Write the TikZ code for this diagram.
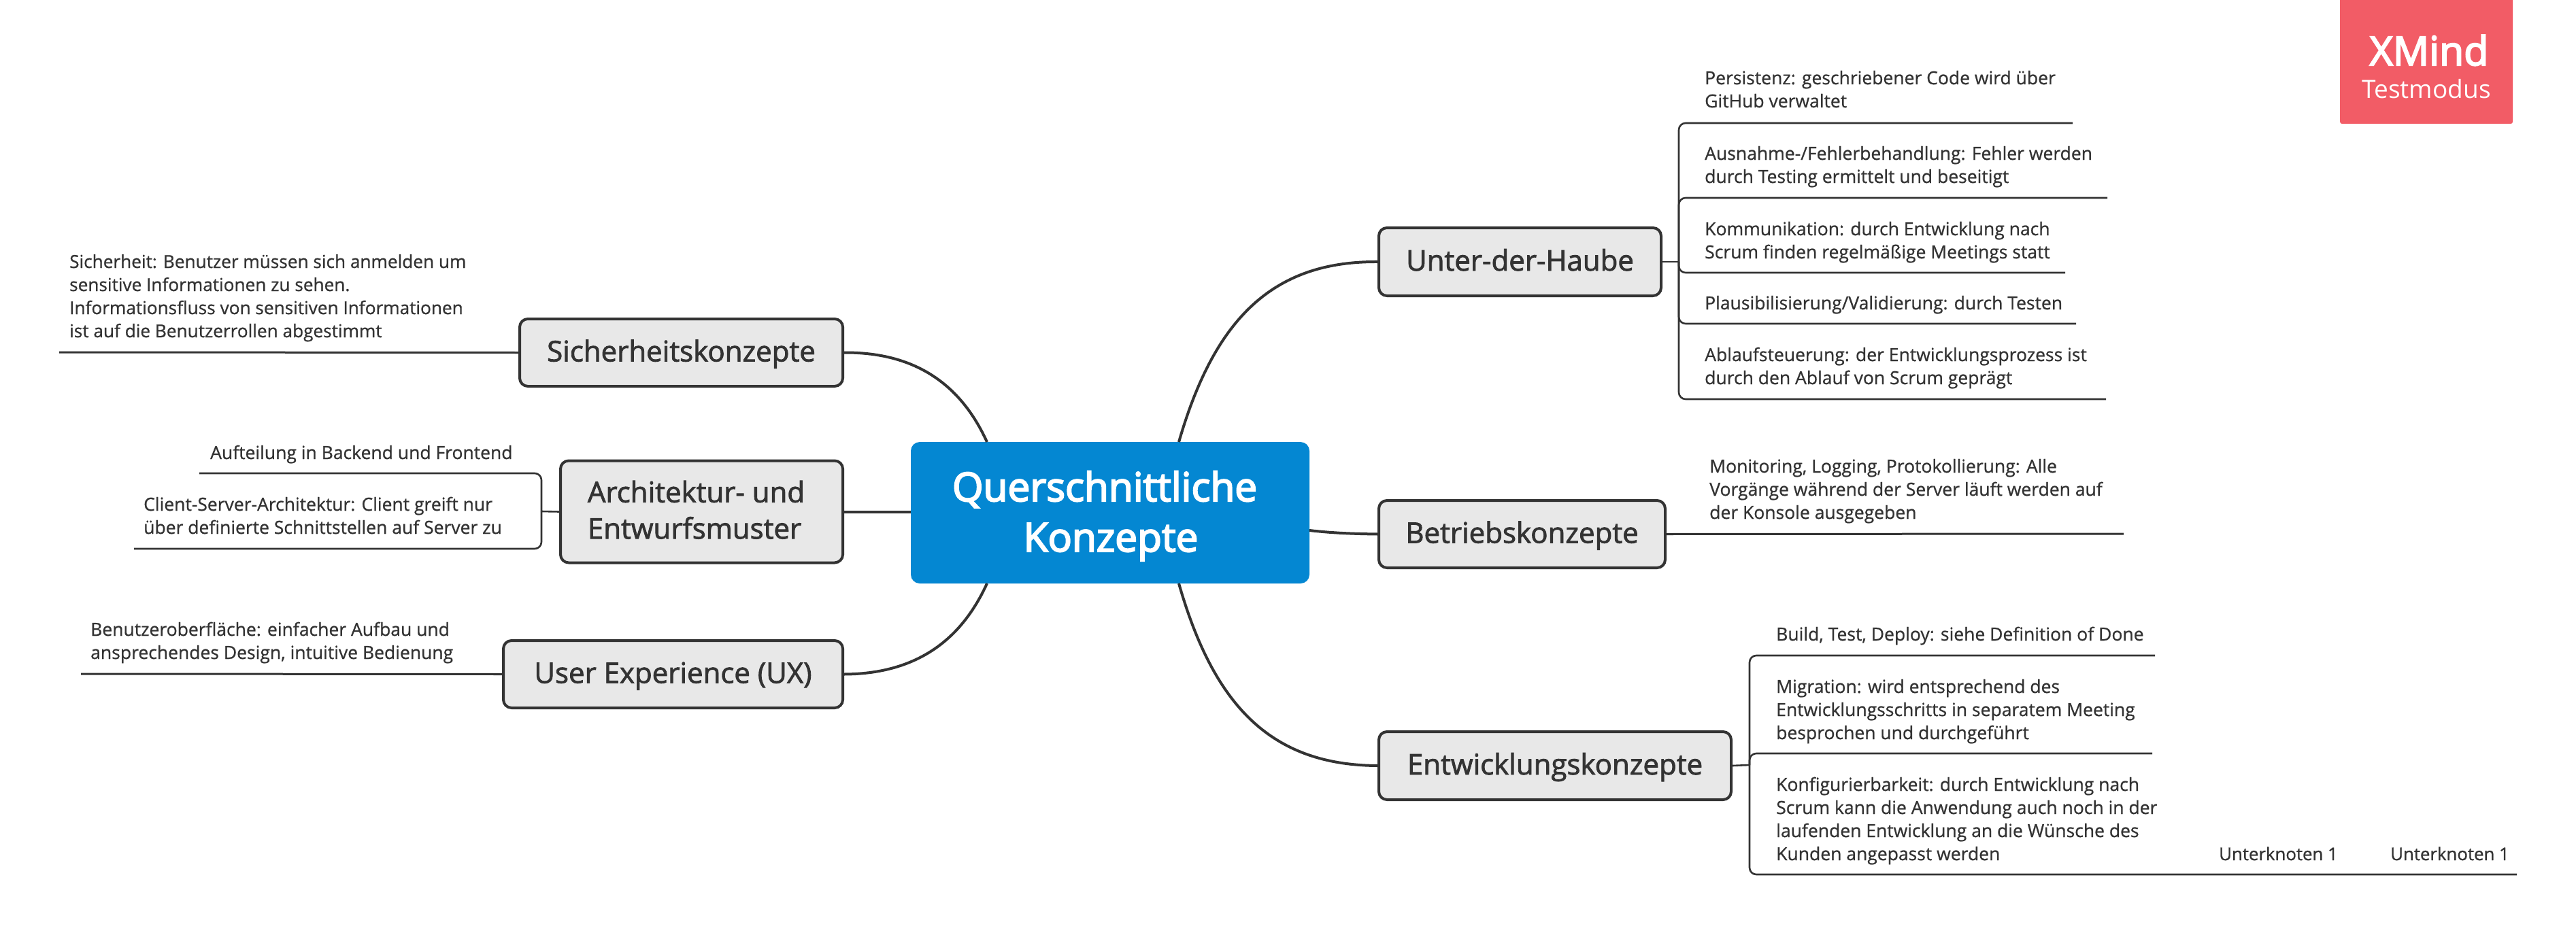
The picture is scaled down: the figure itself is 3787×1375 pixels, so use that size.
\documentclass[tikz,border=0pt]{standalone}
\usepackage{fontspec}
\setmainfont{Open Sans}
\newfontfamily\centrefont[FakeBold=3.5]{Open Sans}
\newfontfamily\branchfont[FakeBold=2]{Open Sans}
\newfontfamily\leaffont[FakeBold=0.8]{Open Sans}
\definecolor{ink}{HTML}{333333}
\definecolor{boxfill}{HTML}{E8E8E8}
\definecolor{centreblue}{HTML}{0487D2}
\definecolor{badge}{HTML}{F25C66}
\tikzset{
  x=1pt,y=-1pt,
  centrebox/.style={fill=centreblue,draw=none,rounded corners=13pt,inner sep=0pt,text=white,align=center},
  centretext/.style={inner sep=0pt,anchor=base,text=white,font=\centrefont\fontsize{58.5}{58.5}\selectfont},
  branchbox/.style={draw=ink,line width=4pt,fill=boxfill,rounded corners=12pt,inner sep=0pt,text=ink,
    text height=36pt,text depth=10pt,font=\branchfont\fontsize{42}{53.5}\selectfont},
  leaf/.style={anchor=base west,inner sep=0pt,text=ink,align=left,font=\leaffont\fontsize{26.5}{34}\selectfont},
  mainline/.style={draw=ink,line width=4pt},
  leafline/.style={draw=ink,line width=3pt},
  brackline/.style={draw=ink,line width=2.6pt,rounded corners=10pt},
}
\begin{document}
\begin{tikzpicture}
\useasboundingbox (0,0) rectangle (3787,1375);
\fill[white] (0,0) rectangle (3787,1375);
% badge
\fill[badge,rounded corners=3pt] (3440,-10) rectangle (3694,182);
\node[inner sep=0pt,anchor=base,text=white,font=\centrefont\fontsize{59}{59}\selectfont] (xm) at (3571,96) {XMind};
\node[inner sep=0pt,anchor=base,text=white,font=\fontsize{37}{37}\selectfont] (tm) at (3567,145) {Testmodus};
% centre
\node[centrebox,minimum width=586pt,minimum height=208pt] (c) at (1632,754) {};
\node[centretext] (c1) at (1624,737) {Querschnittliche};
\node[centretext] (c2) at (1633,811) {Konzepte};
% branches
\node[branchbox,minimum width=415pt,minimum height=100pt] (uh) at (2234.5,385) {Unter-der-Haube};
\node[branchbox,minimum width=421pt,minimum height=99pt] (bk) at (2237.5,785.5) {Betriebskonzepte};
\node[branchbox,minimum width=518pt,minimum height=100pt] (ek) at (2286,1126) {Entwicklungskonzepte};
\node[branchbox,minimum width=475pt,minimum height=99pt] (sk) at (1001.5,518.5) {Sicherheitskonzepte};
\node[branchbox,text height={},text depth=6pt,minimum width=415pt,minimum height=150pt,align=left] (ak) at (1031.5,752.5) {Architektur- und\hspace*{16pt}\\Entwurfsmuster};
\node[branchbox,minimum width=499pt,minimum height=99pt] (ux) at (989.5,991.5) {User Experience (UX)};
% main connectors
\coordinate (cul) at (1451,650);\coordinate (cur) at (1733,650);
\coordinate (cdl) at (1451,858);\coordinate (cdr) at (1733,858);
\coordinate (cre) at (1925,780);
\draw[mainline] (cur) .. controls (1785,470) and (1870,384) .. (uh.west);
\draw[mainline] (cdr) .. controls (1785,1040) and (1870,1125) .. (ek.west);
\draw[mainline] (cre) .. controls (1960,784) and (1990,785) .. (bk.west);
\draw[mainline] (cul) .. controls (1410,560) and (1340,518) .. (sk.east);
\draw[mainline] (cdl) .. controls (1410,948) and (1340,991) .. (ux.east);
\draw[mainline] (ak.east) -- (c.west |- ak.east);
% Unter-der-Haube leaves
\coordinate (ubr) at (2468,385);
\coordinate (u1) at (3047,181);\coordinate (u2) at (3098,291);\coordinate (u3) at (3036,401);
\coordinate (u4) at (3052,476);\coordinate (u5) at (3096,587);
\draw[brackline] (uh.east) -- (ubr);
\foreach \n in {u1,u2,u3,u4,u5} \draw[brackline] (ubr) |- (\n);
\node[leaf] (lu1) at (2506,158) {Persistenz: geschriebener Code wird über\\GitHub verwaltet};
\node[leaf] (lu2) at (2506,269) {Ausnahme-/Fehlerbehandlung: Fehler werden\\durch Testing ermittelt und beseitigt};
\node[leaf] (lu3) at (2506,380) {Kommunikation: durch Entwicklung nach\\Scrum finden regelmäßige Meetings statt};
\node[leaf] (lu4) at (2506,455) {Plausibilisierung/Validierung: durch Testen};
\node[leaf] (lu5) at (2506,565) {Ablaufsteuerung: der Entwicklungsprozess ist\\durch den Ablauf von Scrum geprägt};
% Betrieb
\coordinate (b1) at (3122,785);
\draw[leafline] (bk.east) -- (b1);
\node[leaf] (lb1) at (2513,763) {Monitoring, Logging, Protokollierung: Alle\\Vorgänge während der Server läuft werden auf\\der Konsole ausgegeben};
% Entwicklung
\coordinate (ebr) at (2572,1125);
\coordinate (e1) at (3168,964);\coordinate (e2) at (3164,1108);\coordinate (e3) at (3700,1286);
\draw[brackline] (ek.east) -- (ebr);
\foreach \n in {e1,e2,e3} \draw[brackline] (ebr) |- (\n);
\node[leaf] (le1) at (2611,942) {Build, Test, Deploy: siehe Definition of Done};
\node[leaf] (le2) at (2611,1087) {Migration: wird entsprechend des\\Entwicklungsschritts in separatem Meeting\\besprochen und durchgeführt};
\node[leaf] (le3) at (2611,1265) {Konfigurierbarkeit: durch Entwicklung nach\\Scrum kann die Anwendung auch noch in der\\laufenden Entwicklung an die Wünsche des\\Kunden angepasst werden};
\node[leaf,font=\leaffont\fontsize{25.8}{34}\selectfont] (le4) at (3262,1265) {Unterknoten 1};
\node[leaf,font=\leaffont\fontsize{25.8}{34}\selectfont] (le5) at (3514,1265) {Unterknoten 1};
% Sicherheit
\coordinate (s1) at (87,518);
\draw[leafline] (sk.west) -- (s1);
\node[leaf,font=\leaffont\fontsize{26.2}{34}\selectfont] (ls1) at (102,496) {Sicherheit: Benutzer müssen sich anmelden um\\sensitive Informationen zu sehen.\\Informationsfluss von sensitiven Informationen\\ist auf die Benutzerrollen abgestimmt};
% Architektur
\coordinate (abr) at (796,752);
\coordinate (a1) at (293,696);\coordinate (a2) at (197,807);
\draw[brackline] (ak.west) -- (abr);
\foreach \n in {a1,a2} \draw[brackline] (abr) |- (\n);
\node[leaf] (la1) at (309,675) {Aufteilung in Backend und Frontend};
\node[leaf] (la2) at (211,785) {Client-Server-Architektur: Client greift nur\\über definierte Schnittstellen auf Server zu};
% UX
\coordinate (x1) at (119,991);
\draw[leafline] (ux.west) -- (x1);
\node[leaf] (lx1) at (133,969) {Benutzeroberfläche: einfacher Aufbau und\\ansprechendes Design, intuitive Bedienung};
\end{tikzpicture}
\end{document}
